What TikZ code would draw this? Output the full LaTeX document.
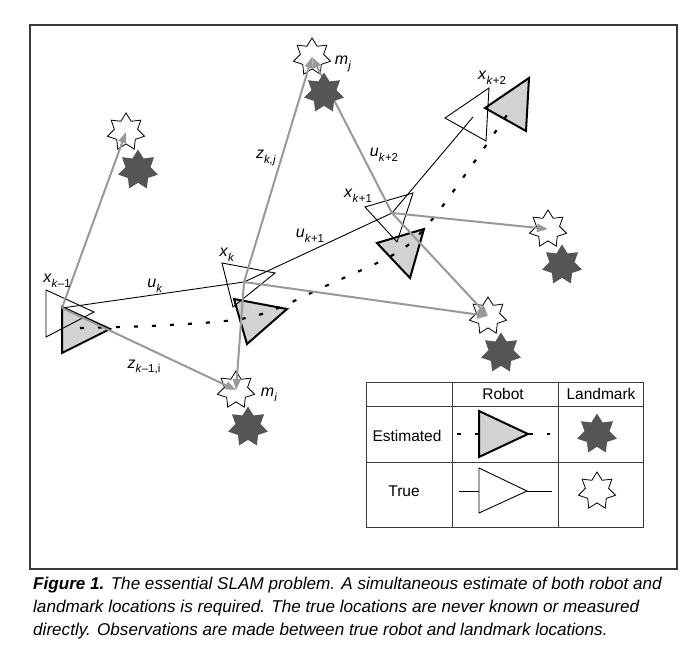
\documentclass[tikz,border=0pt]{standalone}
\usepackage{fontspec}
\setmainfont{Liberation Sans}
\usetikzlibrary{shapes.geometric,arrows.meta}
\definecolor{obsgray}{HTML}{999999}
\definecolor{estfill}{HTML}{D2D2D2}
\definecolor{lmdark}{HTML}{555555}
\definecolor{framegray}{HTML}{3A3A3A}
\newcommand\symb[2]{\textit{#1}\raisebox{-0.3em}{\fontsize{11.5}{13}\selectfont #2}}
\begin{document}
\begin{tikzpicture}[x=1pt,y=-1pt,
  wstar/.style={star,star points=7,star point ratio=1.6,minimum size=38pt,inner sep=0pt,draw=black,fill=white,line width=0.8pt},
  dstar/.style={star,star points=7,star point ratio=1.6,minimum size=41pt,inner sep=0pt,draw=none,fill=lmdark},
  truetri/.style={draw=black,line width=0.9pt,line join=miter},
  esttri/.style={draw=black,fill=estfill,line width=2pt,line join=miter},
  ctrl/.style={draw=black,line width=0.9pt},
  obs/.style={draw=obsgray,line width=2pt,-{Triangle[length=11pt,width=8pt,fill=obsgray]}},
  estpath/.style={draw=black,line width=2.2pt,dash pattern=on 4pt off 14pt},
  lbl/.style={font=\fontsize{16}{19}\selectfont,inner sep=0pt},
  tbl/.style={draw=framegray,line width=1pt},
  tbltext/.style={font=\fontsize{15.5}{18}\selectfont,inner sep=0pt},
]
\useasboundingbox (0,0) rectangle (686,647);
\fill[white] (0,0) rectangle (686,647);
% frame
\draw[draw=framegray,line width=1.2pt] (30,25) rectangle (677,569);

% pose and landmark positions
\coordinate (T1) at (62,308);
\coordinate (T2) at (244,282);
\coordinate (T3) at (392,213);
\coordinate (T4) at (473,117);
\coordinate (La) at (126,132);
\coordinate (Lj) at (312,57);
\coordinate (Lc) at (548,229);
\coordinate (Ld) at (488,316);
\coordinate (Li) at (236,390);

% true landmarks
\node[wstar] (sa) at (La) {};
\node[wstar] (sj) at (Lj) {};
\node[wstar] (sc) at (Lc) {};
\node[wstar] (sd) at (Ld) {};
\node[wstar] (si) at (Li) {};

% estimated robot poses
\draw[esttri] (62,307) -- (62,353) -- (110,329) -- cycle;
\draw[esttri] (234,299) -- (287,309) -- (247,344) -- cycle;
\draw[esttri] (377,243) -- (424,229) -- (410,278) -- cycle;
\draw[esttri] (485,108) -- (529,78) -- (526,131) -- cycle;

% estimated path
\draw[estpath] plot[smooth,tension=0.55] coordinates {(80,328) (170,325) (255,316) (330,284) (398,252) (430,222) (470,168) (507,115)};

% true robot poses
\draw[truetri] (46,290) -- (46,337) -- (94,312) -- cycle;
\draw[truetri] (222,263) -- (233,307) -- (275,273) -- cycle;
\draw[truetri] (365,207) -- (413,193) -- (397,242) -- cycle;
\draw[truetri] (445,118) -- (489,88) -- (486,141) -- cycle;

% controls
\draw[ctrl] (T1) -- (T2);
\draw[ctrl] (T2) -- (T3);
\draw[ctrl] (T3) -- (T4);

% observations
\draw[obs] (T1) -- (La);
\draw[obs] (T1) -- (Li);
\draw[obs] (T2) -- (Li);
\draw[obs] (T2) -- (Lj);
\draw[obs] (T2) -- (Ld);
\draw[obs] (T3) -- (Lj);
\draw[obs] (T3) -- (Lc);
\draw[obs] (T3) -- (Ld);

% estimated landmarks
\node[dstar] (ea) at (138,170) {};
\node[dstar] (ej) at (324,93) {};
\node[dstar] (ec) at (562,265) {};
\node[dstar] (ed) at (501,353) {};
\node[dstar] (ei) at (248,427) {};

% labels
\node[lbl] (lx1) at (57,281) {\symb{x}{\textit{k}–1}};
\node[lbl] (luk) at (155,286) {\symb{u}{\textit{k}}};
\node[lbl] (lxk) at (227,255) {\symb{x}{\textit{k}}};
\node[lbl] (lz1) at (144,367) {\symb{z}{\textit{k}–1,i}};
\node[lbl] (lmi) at (269,395) {\symb{m}{\textit{i}}};
\node[lbl] (lzk) at (266,158) {\symb{z}{\textit{k,j}}};
\node[lbl] (lmj) at (343,64) {\symb{m}{\textit{j}}};
\node[lbl] (lu2) at (384,155) {\symb{u}{\textit{k}+2}};
\node[lbl] (lx2) at (358,196) {\symb{x}{\textit{k}+1}};
\node[lbl] (lu1) at (310,236) {\symb{u}{\textit{k}+1}};
\node[lbl] (lx3) at (492,78) {\symb{x}{\textit{k}+2}};

% legend table
\fill[white] (366,382) rectangle (643,527);
\draw[tbl] (366,382) rectangle (643,527);
\draw[tbl] (452,382) -- (452,527);
\draw[tbl] (558,382) -- (558,527);
\draw[tbl] (366,406) -- (643,406);
\draw[tbl] (366,462) -- (643,462);
\node[tbltext] (hr) at (503,394) {Robot};
\node[tbltext] (hl) at (601,394) {Landmark};
\node[tbltext] (re) at (407,436) {Estimated};
\node[tbltext] (rt) at (404,491) {True};
\draw[estpath] (457,434) -- (550,434);
\draw[esttri] (479,411) -- (479,457) -- (528,434) -- cycle;
\coordinate (lgl) at (459,491);
\coordinate (lgr) at (552,491);
\draw[truetri,fill=white] (479,468) -- (479,513) -- (527,491) -- cycle;
\draw[ctrl] (lgl) -- (479,491);
\draw[ctrl] (527,491) -- (lgr);
\node[dstar] (lgd) at (597,434) {};
\node[wstar] (lgw) at (597,491) {};

% caption
\node[anchor=north west,align=left,inner sep=0pt,font=\fontsize{17.1}{22.8}\selectfont\itshape] (cap) at (33,577)
{\textbf{Figure 1.} The essential SLAM problem. A simultaneous estimate of both robot and\\
landmark locations is required. The true locations are never known or measured\\
directly. Observations are made between true robot and landmark locations.};
\end{tikzpicture}
\end{document}
